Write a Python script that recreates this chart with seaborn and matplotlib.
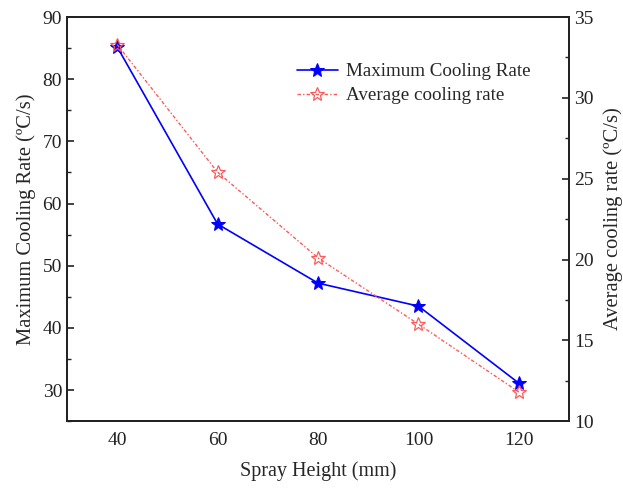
import matplotlib
matplotlib.use("Agg")
import matplotlib.pyplot as plt
import seaborn as sns
import pandas as pd
from matplotlib.ticker import MultipleLocator

spray_height = [40, 60, 80, 100, 120]
max_cooling = [85.2, 56.7, 47.2, 43.5, 31.1]
avg_cooling = [33.3, 25.4, 20.1, 16.0, 11.8]

sns.set_style("white")
plt.rcParams['font.family'] = ['Liberation Serif', 'DejaVu Serif']
plt.rcParams['mathtext.fontset'] = 'stix'

df = pd.DataFrame({"h": spray_height, "mx": max_cooling, "av": avg_cooling})

fig = plt.figure(figsize=(6.23, 4.88), dpi=100)
ax = fig.add_axes([0.1075, 0.137, 0.806, 0.828])
ax2 = ax.twinx()

blue = "#0000ff"
red = "#ff5a5a"
sns.lineplot(data=df, x="h", y="mx", ax=ax, color=blue, marker="*", markersize=10,
             markeredgecolor=blue, markerfacecolor=blue, linewidth=1.2,
             label="Maximum Cooling Rate", legend=False)
sns.lineplot(data=df, x="h", y="av", ax=ax2, color=red, marker="*", markersize=10,
             markeredgecolor=red, markerfacecolor="none", markeredgewidth=0.9,
             linewidth=1.0, linestyle=(0, (2.5, 1.5, 1, 1.5)),
             label="Average cooling rate", legend=False)

ax.set_xlim(30, 130)
ax.set_ylim(25, 90)
ax2.set_ylim(10, 35)
ax.set_xticks(spray_height)
ax.xaxis.set_minor_locator(MultipleLocator(10))
ax.set_yticks([30, 40, 50, 60, 70, 80, 90])
ax.yaxis.set_minor_locator(MultipleLocator(5))
ax2.set_yticks([10, 15, 20, 25, 30, 35])
ax2.yaxis.set_minor_locator(MultipleLocator(2.5))

fs = 14
ax.tick_params(axis="both", which="major", direction="in", length=5, width=1.2, labelsize=fs, colors="#222222")
ax.tick_params(axis="both", which="minor", direction="in", length=3, width=1.0, colors="#222222")
ax2.tick_params(axis="y", which="major", direction="in", length=5, width=1.2, labelsize=fs, colors="#222222")
ax2.tick_params(axis="y", which="minor", direction="in", length=3, width=1.0, colors="#222222")
ax.tick_params(axis="x", pad=8)

for a in (ax, ax2):
    for s in a.spines.values():
        s.set_visible(True)
        s.set_linewidth(1.3)
        s.set_color("#222222")

ax.set_xlabel("Spray Height (mm)", fontsize=14.5, labelpad=9)
ax.set_ylabel("Maximum Cooling Rate (ºC/s)", fontsize=14.8, labelpad=5)
ax2.set_ylabel("Average cooling rate (ºC/s)", fontsize=14.8, labelpad=7)

h1, l1 = ax.get_legend_handles_labels()
h2, l2 = ax2.get_legend_handles_labels()
ax2.legend(h1 + h2, l1 + l2, loc="upper left", bbox_to_anchor=(0.442, 0.905),
           frameon=False, fontsize=13.7, handlelength=2.2, borderaxespad=0,
           labelspacing=0.35, handletextpad=0.4)

fig.savefig("out.png", dpi=100)
